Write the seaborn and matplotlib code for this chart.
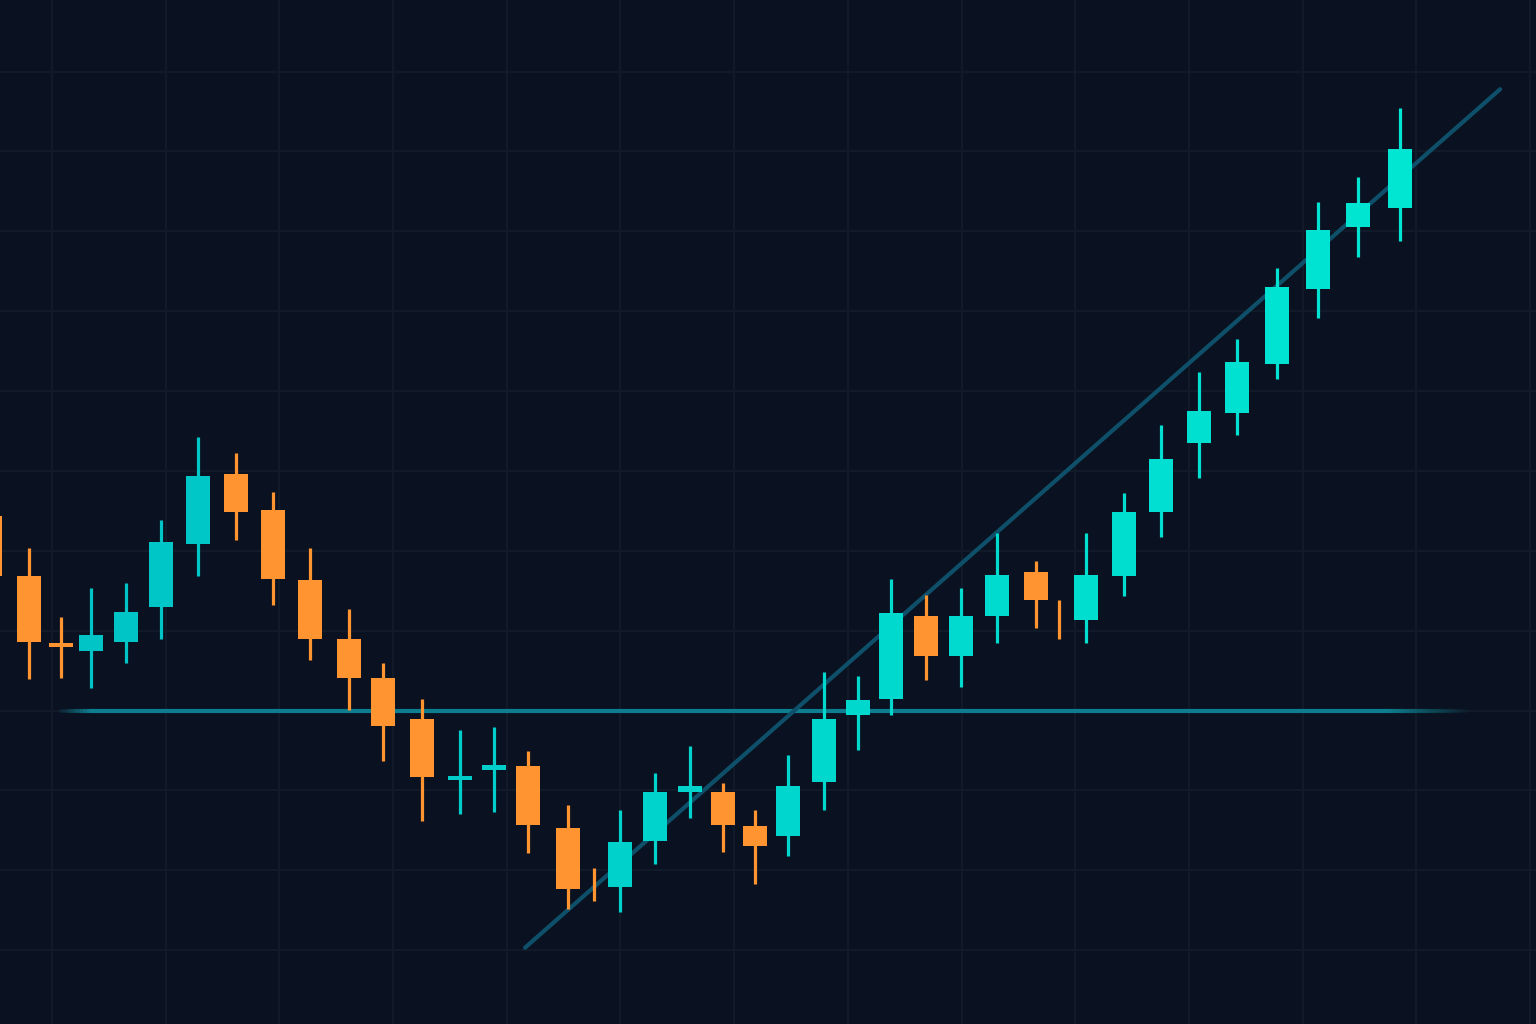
import numpy as np
import pandas as pd
import matplotlib
matplotlib.use("Agg")
import matplotlib.pyplot as plt
import seaborn as sns
from matplotlib.collections import LineCollection
from matplotlib.colors import to_rgb

# ---------------- data ----------------
session = [-1.64, -0.61, 0.24, 1.03, 1.95, 2.88, 3.85, 4.85, 5.83, 6.81, 7.84, 8.73,
           9.76, 10.77, 11.66, 12.56, 13.61, 14.30, 14.99, 15.91, 16.83, 17.70, 18.55,
           19.42, 20.37, 21.27, 22.14, 23.06, 23.98, 24.93, 25.96, 26.57, 27.28, 28.28,
           29.26, 30.26, 31.27, 32.32, 33.40, 34.46, 35.57]
open_ = [124.4, 116.9, 108.4, 107.4, 108.6, 113.0, 120.8, 129.6, 125.1, 116.3, 109.0, 104.1,
         98.9, 91.35, 92.6, 93.1, 85.3, 78.3, 77.9, 83.7, 89.85, 89.8, 85.6,
         84.3, 91.0, 99.4, 101.5, 111.8, 106.8, 111.8, 117.4, 111.4, 111.3, 116.8,
         124.9, 133.5, 137.2, 143.4, 152.8, 160.5, 162.9]
high = [125.7, 120.4, 111.7, 115.3, 116.0, 123.8, 134.3, 132.2, 127.4, 120.4, 112.7, 105.9,
        101.5, 97.6, 98.0, 94.9, 88.2, 80.3, 87.5, 92.2, 95.6, 90.9, 87.5,
        94.4, 104.8, 104.3, 116.5, 114.5, 115.4, 122.2, 118.7, 113.8, 122.2, 127.3,
        135.8, 142.4, 146.5, 155.4, 163.7, 166.8, 175.4]
low = [115.0, 104.0, 104.1, 102.8, 106.0, 108.9, 116.8, 121.4, 113.2, 106.3, 100.1, 93.7,
       86.2, 87.1, 87.3, 82.2, 75.1, 76.2, 74.8, 80.8, 86.5, 82.3, 78.3,
       81.8, 87.6, 95.1, 99.4, 103.8, 103.0, 108.4, 110.3, 109.0, 108.4, 114.4,
       121.7, 129.1, 134.5, 141.5, 149.2, 156.8, 158.8]
close = [116.8, 108.6, 107.9, 109.5, 112.4, 121.1, 129.4, 124.9, 116.5, 108.9, 104.1, 98.1,
         91.7, 91.85, 93.2, 85.7, 77.6, 78.3, 83.5, 89.8, 90.6, 85.7, 83.0,
         90.6, 99.0, 101.3, 112.2, 106.8, 111.8, 117.0, 113.9, 111.4, 117.0, 124.9,
         131.5, 137.5, 143.7, 153.0, 160.2, 163.5, 170.3]

support_level = 100.0
support_span = [0.08, 37.4]
trend_x = [12.48, 38.21]
trend_y = [70.3, 177.8]

df = pd.DataFrame({"session": session, "open": open_, "high": high,
                   "low": low, "close": close})

# ---------------- style ----------------
BG = "#0A1120"
GRID = "#121B29"
ORANGE = "#FF9430"
CYAN_L = "#00C3C6"
CYAN_R = "#00E6D3"
SUPPORT = "#0D7E8F"
TREND = "#0E5069"

sns.set_theme(style="darkgrid", rc={
    "axes.facecolor": BG, "figure.facecolor": BG,
    "grid.color": GRID, "grid.linewidth": 1.4,
    "axes.edgecolor": BG,
})
plt.rcParams["font.family"] = ["DejaVu Sans"]

fig = plt.figure(figsize=(15.36, 10.24), dpi=100)
ax = fig.add_axes([0, 0, 1, 1])
ax.set_facecolor(BG)

xmin, xmax = -1.372, 39.156
ymin, ymax = 60.75, 188.97
ax.set_xlim(xmin, xmax)
ax.set_ylim(ymin, ymax)
ax.set_xticks(np.arange(0, 40, 3))
ax.set_yticks(np.arange(70, 190, 10))
ax.tick_params(length=0, labelbottom=False, labelleft=False)
for s in ax.spines.values():
    s.set_visible(False)
ax.grid(True, color=GRID, linewidth=1.4, zorder=0)
ax.set_axisbelow(True)

# colours per candle
cl = np.array(to_rgb(CYAN_L)); cr = np.array(to_rgb(CYAN_R))
bull = df["close"] > df["open"]
cols = []
for xv, b in zip(df["session"], bull):
    if b:
        t = np.clip((xv - 0) / 36.0, 0, 1)
        cols.append(tuple(cl * (1 - t) + cr * t))
    else:
        cols.append(to_rgb(ORANGE))

# support line with faded ends
xs = np.linspace(support_span[0], support_span[1], 400)
alpha = np.ones_like(xs)
fade_l = 0.9
fade_r = 2.2
alpha = np.minimum(alpha, (xs - support_span[0]) / fade_l)
alpha = np.minimum(alpha, (support_span[1] - xs) / fade_r)
alpha = np.clip(alpha, 0, 1)
pts = np.column_stack([xs, np.full_like(xs, support_level)])
segs = np.stack([pts[:-1], pts[1:]], axis=1)
rgb = to_rgb(SUPPORT)
seg_cols = [(rgb[0], rgb[1], rgb[2], a) for a in alpha[:-1]]
lc = LineCollection(segs, colors=seg_cols, linewidths=3.0, capstyle="butt", zorder=1.5)
ax.add_collection(lc)

# trend line
sns.lineplot(x=trend_x, y=trend_y, ax=ax, color=TREND, linewidth=3.0,
             solid_capstyle="round", zorder=1.6, legend=False)

# wicks
ax.vlines(df["session"], df["low"], df["high"], colors=cols, linewidth=2.3, zorder=2)

# bodies
body_bottom = np.minimum(df["open"], df["close"])
body_h = (df["close"] - df["open"]).abs()
ax.bar(df["session"], body_h, bottom=body_bottom, width=0.63, color=cols,
       linewidth=0, zorder=3)

ax.set_xlim(xmin, xmax)
ax.set_ylim(ymin, ymax)
ax.set_xlabel("")
ax.set_ylabel("")

fig.savefig("out.png", dpi=100, facecolor=BG)
